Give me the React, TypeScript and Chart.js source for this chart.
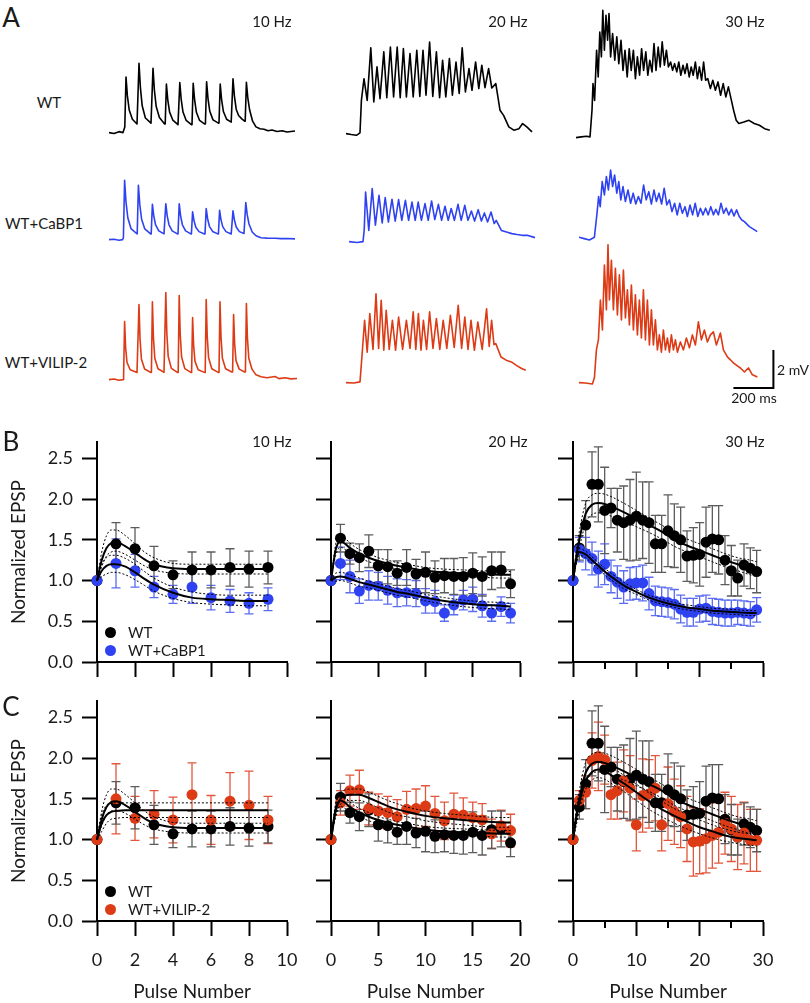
import React, { useEffect, useRef } from "react";
import { Chart, registerables } from "chart.js";

Chart.register(...registerables);

type Pt = [number, number];

// ---------------- Panel A : membrane traces, [time (ms), mV above baseline] ----------------
const traceWT10: Pt[] = [[0,0],[25,-0.05],[50,0.05],[70,0],[79,0.3],[85,2.92],[92,1.93],[101,1.19],[117,0.7],[140,0.45],
[144,0.45],[150,3.65],[157,2.37],[166,1.41],[182,0.77],[210,0.5],
[214,0.5],[220,3.39],[227,2.23],[236,1.37],[252,0.79],[278,0.45],
[281,0.45],[287,2.55],[294,1.71],[303,1.08],[319,0.66],[345,0.42],
[348,0.42],[354,2.63],[361,1.75],[370,1.08],[386,0.64],[412,0.42],
[415,0.42],[421,2.6],[428,1.73],[437,1.07],[453,0.64],[479,0.45],
[482,0.45],[488,2.68],[495,1.79],[504,1.12],[520,0.67],[547,0.5],
[550,0.5],[556,2.55],[563,1.73],[572,1.11],[588,0.7],[611,0.55],
[614,0.55],[620,2.83],[627,1.92],[636,1.23],[648,0.9],[664,0.72],[678,0.6],
[681,0.6],[687,2.65],[694,1.83],[703,1.2],[718,0.6],[735,0.3],[755,0.2],[775,0.18],[795,0.1],[815,0.14],[840,0.06],[865,0.1],[890,0.03],[930,0.08]];

const traceWT20: Pt[] = [[0,0],[26,-0.05],[52,-0.09],[70,0.04],[77,1.75],[90,2.89],[106,1.75],[124,4.51],[139,1.67],[155,3.51],[170,1.84],
[189,4.3],[204,1.89],[222,4.56],[238,1.93],[256,4.56],[271,1.89],[287,4.47],[302,1.93],[320,4.21],[336,1.93],[354,4.39],[369,1.96],
[385,4.39],[400,2.02],[418,4.82],[434,1.96],[452,4.3],[468,1.89],[483,3.86],[499,1.93],[517,3.95],[532,2.02],[550,3.77],[566,2.11],
[581,4.51],[597,2.19],[615,3.42],[630,2.28],[648,3.77],[664,2.37],[679,3.6],[695,2.42],[713,3.42],[729,2.4],[749,2.63],[770,1.23],
[788,0.96],[814,0.35],[839,0.18],[865,0.26],[883,0.53],[904,0.35],[930,0.09]];

const traceWT30: Pt[] = [[0,0],[26,0.04],[52,0.07],[70,0.04],[80,1.44],[85,2.84],[93,1.96],[103,4.6],[111,3.19],[119,5.56],[127,4.25],
[134,6.7],[142,4.6],[150,6.44],[158,5.12],[165,6.53],[173,4.25],[183,5.47],[194,4.07],[204,5.3],[214,3.89],[225,5.12],[235,3.54],
[245,4.6],[256,3.19],[266,4.68],[276,3.54],[287,4.6],[297,3.1],[307,4.25],[318,3.28],[328,4.68],[338,3.54],[349,4.51],[359,3.28],
[369,4.07],[380,3.46],[390,4.95],[400,3.54],[411,4.77],[421,3.72],[431,5.04],[442,3.81],[452,4.6],[462,3.72],[473,3.98],[483,3.54],
[493,3.89],[504,3.46],[514,3.98],[524,3.28],[535,3.81],[545,3.37],[555,3.89],[566,3.19],[576,3.72],[586,3.28],[597,3.98],[607,3.1],
[617,3.72],[628,3.02],[638,3.98],[648,3.02],[659,3.1],[672,2.58],[684,3.02],[697,2.49],[710,2.93],[723,2.23],[736,2.84],[749,2.14],
[762,2.67],[775,2.05],[788,1.44],[801,0.91],[814,0.74],[839,0.82],[865,0.91],[891,0.74],[917,0.65],[943,0.47],[969,0.39]];

const traceCa10: Pt[] = [[0,0],[25,0.02],[50,-0.03],[68,0],[72,0.1],[78,3.12],[85,1.99],[94,1.15],[110,0.58],[138,0.32],
[141,0.3],[147,2.86],[154,1.84],[163,1.07],[179,0.56],[208,0.3],
[211,0.3],[217,1.86],[224,1.24],[233,0.77],[249,0.46],[275,0.3],
[278,0.3],[284,1.89],[291,1.25],[300,0.78],[316,0.46],[342,0.3],
[345,0.3],[351,1.89],[358,1.25],[367,0.78],[383,0.46],[409,0.3],
[412,0.3],[418,1.46],[425,1.0],[434,0.65],[450,0.42],[477,0.3],
[480,0.3],[486,1.63],[493,1.1],[502,0.7],[518,0.43],[544,0.3],
[547,0.3],[553,1.54],[560,1.04],[569,0.67],[585,0.42],[611,0.3],
[614,0.3],[620,1.51],[627,1.03],[636,0.66],[652,0.42],[675,0.32],
[678,0.32],[684,1.95],[691,1.31],[700,0.82],[716,0.4],[735,0.2],[760,0.1],[790,0.08],[830,0.07],[860,0.05],[890,0.06],[930,0.04]];

const traceCa20: Pt[] = [[0,0],[40,-0.05],[70,0],[76,0.6],[83,2.61],[99,0.59],[116,2.79],[132,0.86],[150,2.44],[166,0.98],[181,2.32],
[197,1.03],[215,2.23],[231,1.08],[248,2.21],[264,1.12],[282,2.17],[298,1.12],[315,2.08],[331,1.12],[346,2.08],[362,1.12],[380,2.0],
[396,1.12],[413,2.14],[429,1.16],[447,1.96],[463,1.12],[480,1.86],[496,1.12],[511,1.74],[527,1.12],[545,1.96],[561,1.12],[579,1.91],
[595,1.12],[612,1.61],[628,1.08],[646,1.68],[662,1.08],[677,1.51],[693,1.03],[710,1.56],[726,0.95],[736,1.12],[762,0.59],[788,0.5],
[814,0.42],[840,0.37],[865,0.33],[891,0.33],[930,0.21]];

const traceCa30: Pt[] = [[0,0.07],[26,0],[52,-0.07],[77,0.07],[90,1.33],[98,2.21],[106,1.68],[116,3.0],[127,2.3],[137,3.26],[147,2.56],
[158,3.61],[168,2.74],[178,3.35],[189,2.39],[199,3.0],[209,2.04],[220,2.74],[232,1.95],[245,2.56],[258,1.86],[271,2.39],[284,1.82],
[297,2.21],[310,1.86],[323,2.82],[336,2.04],[349,2.47],[362,1.82],[375,2.56],[387,1.95],[400,2.39],[413,1.82],[426,2.65],[439,1.77],
[452,2.04],[465,1.42],[478,1.86],[491,1.25],[504,1.86],[517,1.33],[530,1.68],[542,1.16],[555,1.77],[568,1.25],[581,1.86],[594,1.16],
[607,1.6],[620,1.25],[633,1.6],[646,1.25],[659,1.68],[672,1.25],[684,1.54],[697,1.25],[710,1.86],[723,1.33],[736,1.6],[749,1.25],
[762,1.54],[775,1.19],[788,1.51],[801,1.16],[814,0.98],[827,0.89],[852,0.63],[878,0.46],[891,0.37]];

const traceVi10: Pt[] = [[0,0],[25,0.03],[50,-0.03],[70,0],[73,0.2],[78,3.05],[83,1.7],[90,0.9],[106,0.52],[140,0.38],
[145,0.38],[150,3.95],[155,2.17],[162,1.09],[178,0.56],[208,0.38],
[212,0.38],[217,4.1],[222,2.24],[229,1.12],[245,0.57],[275,0.38],
[279,0.38],[284,4.58],[289,2.48],[296,1.22],[312,0.59],[342,0.38],
[346,0.38],[351,4.42],[356,2.4],[363,1.19],[379,0.58],[409,0.38],
[413,0.38],[418,3.26],[423,1.82],[430,0.96],[446,0.52],[477,0.38],
[481,0.38],[486,4.21],[491,2.3],[498,1.15],[514,0.57],[546,0.38],
[550,0.38],[555,4.1],[560,2.24],[567,1.12],[583,0.57],[614,0.4],
[618,0.4],[623,3.42],[628,1.91],[635,1.0],[651,0.55],[678,0.4],
[682,0.4],[687,4.0],[692,2.2],[699,1.12],[715,0.55],[735,0.25],[760,0.15],[790,0.1],[830,0.16],[850,0.05],[880,0.1],[910,0.04],[940,0.06]];

const traceVi20: Pt[] = [[0,0],[39,-0.02],[70,0.04],[77,1.0],[93,3.28],[106,1.6],[119,3.63],[135,1.75],[150,4.68],[163,1.8],[176,4.33],
[189,1.7],[201,3.81],[216,1.75],[232,3.28],[248,1.7],[263,3.45],[283,1.75],[302,3.28],[320,1.8],[336,3.72],[349,1.75],[362,3.63],
[375,1.7],[387,3.28],[403,1.75],[418,3.72],[435,1.8],[452,3.37],[469,1.75],[486,3.28],[504,1.8],[522,3.54],[541,1.85],[561,4.07],
[578,1.8],[594,3.45],[610,1.75],[625,3.28],[642,1.7],[659,3.19],[681,1.75],[703,3.89],[716,1.9],[728,3.28],[740,2.0],[749,2.05],
[775,1.35],[801,1.18],[827,1.09],[852,0.91],[878,0.74],[899,0.65]];

const traceVi30: Pt[] = [[0,0],[32,-0.02],[67,-0.07],[77,0.25],[87,1.72],[97,2.25],[107,4.35],[117,2.77],[127,6.19],[137,3.83],
[145,7.25],[152,4.35],[162,6.44],[172,3.83],[182,6.02],[192,3.56],[202,5.67],[212,3.3],[222,5.93],[232,3.4],[242,4.88],[252,3.04],
[262,5.14],[272,2.77],[282,4.62],[292,2.51],[302,4.35],[312,2.35],[322,4.88],[332,2.25],[342,4.35],[352,1.98],[362,3.83],[372,1.98],
[382,3.3],[392,1.72],[402,2.51],[412,1.6],[422,2.77],[432,1.72],[442,2.35],[452,1.6],[462,2.51],[472,1.72],[482,2.25],[492,1.6],
[507,2.14],[522,1.72],[537,2.35],[552,1.83],[567,2.51],[582,1.98],[597,3.2],[612,2.25],[627,2.77],[642,2.14],[657,2.51],[672,2.67],
[687,1.98],[707,2.61],[722,1.72],[742,1.35],[757,1.2],[772,1.04],[792,0.88],[807,0.77],[827,0.56],[847,0.77],[867,0.41],[892,0.3]];

// scale bar: 200 ms, 2 mV (anchored in the WT+VILIP-2 30 Hz trace coordinates)
const scaleBarMs = 200;
const scaleBarMv = 2;
const scaleBarOrigin: Pt = [772, -0.28];

// ---------------- Panels B / C : normalized EPSP vs pulse number ----------------
const pulse10 = [0, 1, 2, 3, 4, 5, 6, 7, 8, 9];
const pulse20 = [0, 1, 2, 3, 4, 5, 6, 7, 8, 9, 10, 11, 12, 13, 14, 15, 16, 17, 18, 19];
const pulse30 = [0, 1, 2, 3, 4, 5, 6, 7, 8, 9, 10, 11, 12, 13, 14, 15, 16, 17, 18, 19, 20, 21, 22, 23, 24, 25, 26, 27, 28, 29];

const wt10 = [1.0, 1.45, 1.39, 1.18, 1.07, 1.13, 1.13, 1.16, 1.14, 1.16];
const wt10Err = [0, 0.26, 0.26, 0.24, 0.17, 0.22, 0.22, 0.23, 0.22, 0.2];
const ca10 = [1.0, 1.21, 1.12, 0.92, 0.83, 0.92, 0.79, 0.75, 0.72, 0.77];
const ca10Err = [0, 0.3, 0.2, 0.13, 0.11, 0.2, 0.15, 0.14, 0.13, 0.14];
const vi10 = [1.0, 1.5, 1.26, 1.31, 1.24, 1.55, 1.24, 1.47, 1.42, 1.24];
const vi10Err = [0, 0.43, 0.27, 0.29, 0.28, 0.39, 0.3, 0.35, 0.42, 0.29];

const wt20 = [1.0, 1.52, 1.33, 1.28, 1.36, 1.18, 1.17, 1.09, 1.16, 1.08, 1.1, 1.04, 1.06, 1.05, 1.05, 1.09, 1.05, 1.12, 1.13, 0.96];
const wt20Err = [0, 0.17, 0.13, 0.17, 0.2, 0.2, 0.21, 0.15, 0.22, 0.18, 0.25, 0.2, 0.21, 0.22, 0.23, 0.25, 0.24, 0.23, 0.22, 0.17];
const ca20 = [1.0, 1.21, 1.05, 0.87, 0.94, 0.93, 0.88, 0.85, 0.85, 0.84, 0.75, 0.74, 0.6, 0.7, 0.76, 0.77, 0.69, 0.6, 0.68, 0.6];
const ca20Err = [0, 0.2, 0.2, 0.15, 0.18, 0.17, 0.17, 0.17, 0.16, 0.16, 0.15, 0.14, 0.1, 0.12, 0.12, 0.15, 0.14, 0.1, 0.12, 0.12];
const vi20 = [1.0, 1.45, 1.6, 1.61, 1.38, 1.35, 1.33, 1.28, 1.37, 1.38, 1.41, 1.32, 1.23, 1.31, 1.3, 1.27, 1.24, 1.07, 1.17, 1.11];
const vi20Err = [0, 0.15, 0.19, 0.24, 0.2, 0.21, 0.2, 0.21, 0.22, 0.24, 0.25, 0.21, 0.23, 0.26, 0.21, 0.19, 0.2, 0.18, 0.19, 0.2];

const wt30 = [1.0, 1.4, 1.68, 2.18, 2.18, 1.86, 1.89, 1.74, 1.71, 1.74, 1.79, 1.74, 1.71, 1.45, 1.45, 1.61, 1.55, 1.5, 1.3, 1.31, 1.32, 1.47, 1.51, 1.5, 1.25, 1.12, 1.03, 1.19, 1.15, 1.11];
const wt30Err = [0, 0.15, 0.3, 0.4, 0.46, 0.53, 0.24, 0.39, 0.45, 0.5, 0.54, 0.47, 0.5, 0.35, 0.35, 0.44, 0.39, 0.4, 0.31, 0.34, 0.39, 0.43, 0.41, 0.42, 0.3, 0.31, 0.22, 0.26, 0.25, 0.26];
const ca30 = [1.0, 1.38, 1.33, 1.27, 1.14, 1.2, 1.05, 0.98, 0.92, 0.96, 0.97, 0.97, 0.84, 0.75, 0.74, 0.73, 0.71, 0.65, 0.61, 0.61, 0.65, 0.66, 0.62, 0.61, 0.6, 0.6, 0.61, 0.6, 0.59, 0.64];
const ca30Err = [0, 0.15, 0.2, 0.2, 0.22, 0.25, 0.2, 0.2, 0.2, 0.2, 0.2, 0.22, 0.2, 0.18, 0.18, 0.18, 0.18, 0.17, 0.17, 0.17, 0.16, 0.16, 0.16, 0.16, 0.16, 0.16, 0.15, 0.15, 0.15, 0.15];
const vi30 = [1.0, 1.48, 1.58, 1.97, 2.02, 1.98, 1.55, 1.6, 1.72, 1.63, 1.18, 1.54, 1.56, 1.63, 1.18, 1.44, 1.34, 1.28, 1.13, 0.97, 0.98, 1.01, 1.05, 1.09, 1.2, 1.13, 1.03, 1.08, 0.99, 0.99];
const vi30Err = [0, 0.12, 0.2, 0.34, 0.42, 0.3, 0.3, 0.35, 0.38, 0.4, 0.32, 0.45, 0.42, 0.4, 0.32, 0.45, 0.4, 0.38, 0.4, 0.42, 0.4, 0.42, 0.4, 0.38, 0.38, 0.4, 0.4, 0.38, 0.38, 0.38];

// fitted curves (solid) and confidence bands (dotted)
const grid10 = [0, 0.25, 0.5, 0.75, 1, 1.5, 2, 2.5, 3, 4, 5, 6, 7, 8, 9];
const fitWT10 = [1.0, 1.25, 1.4, 1.46, 1.47, 1.42, 1.34, 1.26, 1.2, 1.15, 1.14, 1.14, 1.14, 1.14, 1.14];
const hiWT10 = [1.0, 1.35, 1.55, 1.62, 1.62, 1.55, 1.45, 1.35, 1.28, 1.21, 1.2, 1.2, 1.2, 1.2, 1.2];
const loWT10 = [1.0, 1.17, 1.3, 1.35, 1.36, 1.32, 1.25, 1.18, 1.13, 1.09, 1.08, 1.08, 1.08, 1.08, 1.08];
const fitCa10 = [1.0, 1.12, 1.18, 1.2, 1.2, 1.17, 1.1, 1.02, 0.95, 0.85, 0.79, 0.77, 0.76, 0.75, 0.75];
const hiCa10 = [1.0, 1.2, 1.28, 1.31, 1.31, 1.27, 1.2, 1.11, 1.03, 0.92, 0.86, 0.83, 0.82, 0.82, 0.82];
const loCa10 = [1.0, 1.05, 1.08, 1.1, 1.1, 1.07, 1.01, 0.94, 0.87, 0.78, 0.73, 0.71, 0.7, 0.69, 0.69];
const fitVi10 = [1.0, 1.2, 1.3, 1.34, 1.35, 1.36, 1.36, 1.36, 1.36, 1.36, 1.36, 1.36, 1.36, 1.36, 1.36];
const hiVi10 = [1.0, 1.3, 1.42, 1.45, 1.45, 1.45, 1.45, 1.45, 1.45, 1.45, 1.45, 1.45, 1.45, 1.45, 1.45];
const loVi10 = [1.0, 1.1, 1.2, 1.25, 1.26, 1.27, 1.27, 1.27, 1.27, 1.27, 1.27, 1.27, 1.27, 1.27, 1.27];

const grid20 = [0, 0.5, 1, 1.5, 2, 3, 4, 5, 6, 7, 8, 10, 12, 14, 16, 18, 19];
const fitWT20 = [1.0, 1.38, 1.48, 1.45, 1.4, 1.33, 1.28, 1.24, 1.21, 1.18, 1.16, 1.12, 1.1, 1.09, 1.08, 1.07, 1.07];
const hiWT20 = [1.0, 1.45, 1.56, 1.52, 1.46, 1.38, 1.33, 1.28, 1.25, 1.22, 1.2, 1.16, 1.14, 1.13, 1.12, 1.11, 1.11];
const loWT20 = [1.0, 1.31, 1.41, 1.38, 1.34, 1.28, 1.23, 1.2, 1.17, 1.14, 1.12, 1.08, 1.06, 1.05, 1.04, 1.03, 1.03];
const fitCa20 = [1.0, 1.04, 1.05, 1.04, 1.02, 0.98, 0.95, 0.92, 0.89, 0.86, 0.84, 0.79, 0.75, 0.72, 0.7, 0.69, 0.68];
const hiCa20 = [1.0, 1.09, 1.1, 1.09, 1.07, 1.03, 0.99, 0.96, 0.93, 0.9, 0.88, 0.83, 0.79, 0.76, 0.74, 0.73, 0.72];
const loCa20 = [1.0, 0.99, 1.0, 0.99, 0.97, 0.93, 0.91, 0.88, 0.85, 0.82, 0.8, 0.75, 0.71, 0.68, 0.66, 0.65, 0.64];
const fitVi20 = [1.0, 1.35, 1.5, 1.54, 1.55, 1.55, 1.51, 1.46, 1.41, 1.37, 1.34, 1.29, 1.26, 1.24, 1.22, 1.21, 1.21];
const hiVi20 = [1.0, 1.42, 1.57, 1.61, 1.62, 1.62, 1.58, 1.53, 1.48, 1.44, 1.4, 1.35, 1.32, 1.3, 1.28, 1.27, 1.27];
const loVi20 = [1.0, 1.28, 1.43, 1.47, 1.48, 1.48, 1.44, 1.39, 1.34, 1.3, 1.28, 1.23, 1.2, 1.18, 1.16, 1.15, 1.15];

const grid30 = [0, 0.5, 1, 2, 3, 4, 5, 6, 8, 10, 12, 14, 16, 18, 20, 22, 24, 26, 28, 29];
const fitWT30 = [1.0, 1.28, 1.5, 1.82, 1.93, 1.95, 1.94, 1.91, 1.84, 1.76, 1.68, 1.6, 1.5, 1.43, 1.37, 1.31, 1.25, 1.2, 1.16, 1.14];
const hiWT30 = [1.0, 1.35, 1.6, 1.95, 2.05, 2.07, 2.06, 2.03, 1.95, 1.86, 1.77, 1.68, 1.59, 1.51, 1.45, 1.39, 1.33, 1.28, 1.25, 1.23];
const loWT30 = [1.0, 1.2, 1.4, 1.7, 1.81, 1.83, 1.82, 1.79, 1.73, 1.66, 1.59, 1.51, 1.42, 1.35, 1.29, 1.23, 1.17, 1.12, 1.07, 1.05];
const fitCa30 = [1.0, 1.25, 1.35, 1.32, 1.25, 1.18, 1.11, 1.05, 0.94, 0.86, 0.79, 0.74, 0.7, 0.67, 0.65, 0.63, 0.62, 0.61, 0.6, 0.6];
const hiCa30 = [1.0, 1.29, 1.39, 1.36, 1.29, 1.22, 1.15, 1.09, 0.98, 0.89, 0.82, 0.77, 0.73, 0.7, 0.68, 0.66, 0.65, 0.64, 0.63, 0.63];
const loCa30 = [1.0, 1.21, 1.31, 1.28, 1.21, 1.14, 1.07, 1.01, 0.9, 0.83, 0.76, 0.71, 0.67, 0.64, 0.62, 0.6, 0.59, 0.58, 0.57, 0.57];
const fitVi30 = [1.0, 1.25, 1.45, 1.72, 1.83, 1.86, 1.84, 1.79, 1.69, 1.58, 1.47, 1.37, 1.29, 1.22, 1.15, 1.1, 1.05, 1.02, 1.0, 0.99];
const hiVi30 = [1.0, 1.33, 1.55, 1.82, 1.93, 1.96, 1.94, 1.89, 1.79, 1.68, 1.57, 1.47, 1.38, 1.31, 1.24, 1.18, 1.13, 1.09, 1.07, 1.06];
const loVi30 = [1.0, 1.17, 1.36, 1.62, 1.73, 1.76, 1.74, 1.69, 1.59, 1.48, 1.37, 1.28, 1.2, 1.13, 1.07, 1.02, 0.98, 0.95, 0.93, 0.92];

// tick labels
const yTicks = [0, 0.5, 1.0, 1.5, 2.0, 2.5];
const xTicks10 = [0, 2, 4, 6, 8, 10];
const xTicks20 = [0, 5, 10, 15, 20];
const xTicks30 = [0, 5, 10, 15, 20, 25, 30];
const xMinor30 = [5, 15, 25];

// ---------------- styles ----------------
const FONT = "Lato, 'Open Sans', sans-serif";
const TXT = "#1a1a1a";
const BLACK = "#000000";
const BLUE = "#2f42f2";
const RED = "#dc3b16";
const ERR_BLACK = "#5c5c5c";
const ERR_BLUE = "#5a6cf2";
const ERR_RED = "#e2573c";

const errorBarPlugin = {
  id: "errorBars",
  beforeDatasetsDraw(chart: any) {
    const { ctx } = chart;
    const xs = chart.scales.x;
    const ys = chart.scales.y;
    chart.data.datasets.forEach((ds: any) => {
      if (!ds.errors) return;
      ctx.save();
      ctx.strokeStyle = ds.errColor;
      ctx.lineWidth = 1.3;
      ds.data.forEach((p: any, i: number) => {
        const e = ds.errors[i];
        if (!e) return;
        const x = xs.getPixelForValue(p.x);
        const y1 = ys.getPixelForValue(p.y + e);
        const y2 = ys.getPixelForValue(p.y - e);
        ctx.beginPath();
        ctx.moveTo(x, y1);
        ctx.lineTo(x, y2);
        ctx.moveTo(x - 4.5, y1);
        ctx.lineTo(x + 4.5, y1);
        ctx.moveTo(x - 4.5, y2);
        ctx.lineTo(x + 4.5, y2);
        ctx.stroke();
      });
      ctx.restore();
    });
  },
};

const minorTickPlugin = {
  id: "minorTicks",
  afterDraw(chart: any, _args: any, opts: any) {
    if (!opts || !opts.values || !opts.values.length) return;
    const { ctx } = chart;
    const xs = chart.scales.x;
    ctx.save();
    ctx.strokeStyle = "#000";
    ctx.lineWidth = 2;
    opts.values.forEach((v: number) => {
      const x = Math.round(xs.getPixelForValue(v));
      ctx.beginPath();
      ctx.moveTo(x, xs.top);
      ctx.lineTo(x, xs.top + opts.length);
      ctx.stroke();
    });
    ctx.restore();
  },
};

// ---------------- trace chart ----------------
const TRACE_W = 200;
const TRACE_H = 152;
const T_MAX = 1000;
const V_MIN = -0.6;
const V_MAX = 7.4;

function TraceChart(props: { data: Pt[]; color: string; left: number; base: number; bar?: boolean }) {
  const ref = useRef<HTMLCanvasElement>(null);
  useEffect(() => {
    const datasets: any[] = [
      {
        data: props.data.map(([x, y]) => ({ x, y })),
        showLine: true,
        borderColor: props.color,
        borderWidth: 1.6,
        pointRadius: 0,
        tension: 0,
        borderJoinStyle: "round",
        clip: false,
      },
    ];
    if (props.bar) {
      const [bx, by] = scaleBarOrigin;
      datasets.push({
        data: [
          { x: bx, y: by },
          { x: bx + scaleBarMs, y: by },
          { x: bx + scaleBarMs, y: by + scaleBarMv },
        ],
        showLine: true,
        borderColor: "#000",
        borderWidth: 2,
        pointRadius: 0,
        tension: 0,
        clip: false,
      });
    }
    const chart = new Chart(ref.current as HTMLCanvasElement, {
      type: "scatter",
      data: { datasets },
      options: {
        responsive: false,
        animation: false,
        events: [],
        layout: { padding: 0 },
        plugins: { legend: { display: false }, tooltip: { enabled: false } },
        scales: {
          x: { type: "linear", display: false, min: 0, max: T_MAX },
          y: { type: "linear", display: false, min: V_MIN, max: V_MAX },
        },
      } as any,
    });
    return () => chart.destroy();
  }, []);
  const pxPerMv = TRACE_H / (V_MAX - V_MIN);
  return (
    <canvas
      ref={ref}
      width={TRACE_W}
      height={TRACE_H}
      style={{ position: "absolute", left: props.left, top: props.base - V_MAX * pxPerMv, width: TRACE_W, height: TRACE_H }}
    />
  );
}

// ---------------- plot chart ----------------
type Series = { x: number[]; y: number[]; err: number[]; color: string; errColor: string; order: number };
type Fit = { x: number[]; mid: number[]; hi: number[]; lo: number[] };

const PAD_TOP = 24;
const PAD_RIGHT = 24;
const CHART_H = 220;

function PlotChart(props: {
  axisX: number;
  chartTop: number;
  plotW: number;
  yWidth: number;
  xHeight: number;
  xMax: number;
  xTicks: number[];
  xMinor: number[];
  yLabels: boolean;
  xLabels: boolean;
  series: Series[];
  fits: Fit[];
}) {
  const ref = useRef<HTMLCanvasElement>(null);
  const width = props.yWidth + props.plotW + PAD_RIGHT;
  const height = PAD_TOP + CHART_H + props.xHeight;
  useEffect(() => {
    const datasets: any[] = [];
    props.fits.forEach((f) => {
      datasets.push({
        data: f.x.map((x, i) => ({ x, y: f.mid[i] })),
        showLine: true,
        borderColor: "#000",
        borderWidth: 2,
        pointRadius: 0,
        cubicInterpolationMode: "monotone",
        clip: false,
        order: 0,
      });
      [f.hi, f.lo].forEach((arr) =>
        datasets.push({
          data: f.x.map((x, i) => ({ x, y: arr[i] })),
          showLine: true,
          borderColor: "#000",
          borderWidth: 1,
          borderDash: [2, 2],
          pointRadius: 0,
          cubicInterpolationMode: "monotone",
          clip: false,
          order: 0,
        })
      );
    });
    props.series.forEach((s) => {
      datasets.push({
        data: s.x.map((x, i) => ({ x, y: s.y[i] })),
        errors: s.err,
        errColor: s.errColor,
        showLine: false,
        pointRadius: 5.5,
        pointBackgroundColor: s.color,
        pointBorderColor: s.color,
        pointBorderWidth: 0,
        clip: false,
        order: s.order,
      });
    });
    const tickFont = { family: FONT, size: 18 };
    const titleFont = { family: FONT, size: 19 };
    const minor = props.xMinor;
    const chart = new Chart(ref.current as HTMLCanvasElement, {
      type: "scatter",
      data: { datasets },
      plugins: [errorBarPlugin, minorTickPlugin],
      options: {
        responsive: false,
        animation: false,
        events: [],
        layout: { padding: { top: PAD_TOP, right: PAD_RIGHT, left: 0, bottom: 0 } },
        plugins: {
          legend: { display: false },
          tooltip: { enabled: false },
          minorTicks: { values: minor, length: 7 },
        },
        scales: {
          x: {
            type: "linear",
            min: 0,
            max: props.xMax,
            afterBuildTicks: (s: any) => {
              s.ticks = props.xTicks.map((v) => ({ value: v }));
            },
            afterFit: (s: any) => {
              s.height = props.xHeight;
            },
            ticks: {
              display: props.xLabels,
              font: tickFont,
              color: TXT,
              padding: 13,
              maxRotation: 0,
              autoSkip: false,
              callback: (v: any) => (minor.includes(v) ? "" : String(v)),
            },
            grid: {
              drawOnChartArea: false,
              drawTicks: true,
              tickLength: 15,
              tickWidth: 2,
              tickColor: (c: any) => (c.tick && minor.includes(c.tick.value) ? "rgba(0,0,0,0)" : "#000"),
            },
            border: { display: true, width: 2, color: "#000" },
            title: {
              display: props.xLabels,
              text: "Pulse Number",
              font: titleFont,
              color: TXT,
              padding: 0,
            },
          },
          y: {
            type: "linear",
            min: 0,
            max: 2.7,
            afterBuildTicks: (s: any) => {
              s.ticks = yTicks.map((v) => ({ value: v }));
            },
            afterFit: (s: any) => {
              s.width = props.yWidth;
            },
            ticks: {
              display: props.yLabels,
              font: tickFont,
              color: TXT,
              padding: 9,
              callback: (v: any) => Number(v).toFixed(1),
            },
            grid: { drawOnChartArea: false, drawTicks: true, tickLength: 15, tickWidth: 2, tickColor: "#000" },
            border: { display: true, width: 2, color: "#000" },
            title: {
              display: props.yLabels,
              text: "Normalized EPSP",
              font: titleFont,
              color: TXT,
              padding: { top: 7, bottom: 0 },
            },
          },
        },
      } as any,
    });
    return () => chart.destroy();
  }, []);
  return (
    <canvas
      ref={ref}
      width={width}
      height={height}
      style={{
        position: "absolute",
        left: props.axisX - props.yWidth,
        top: props.chartTop - PAD_TOP,
        width,
        height,
      }}
    />
  );
}

// ---------------- layout ----------------
const traceRows = [
  { data: traceWT10, color: BLACK, left: 108.5, base: 132.7 },
  { data: traceWT20, color: BLACK, left: 346, base: 133.3 },
  { data: traceWT30, color: BLACK, left: 576, base: 137.3 },
  { data: traceCa10, color: BLUE, left: 108.5, base: 239.3 },
  { data: traceCa20, color: BLUE, left: 348.7, base: 241.3 },
  { data: traceCa30, color: BLUE, left: 578.6, base: 238.7 },
  { data: traceVi10, color: RED, left: 108.5, base: 380 },
  { data: traceVi20, color: RED, left: 346, base: 382.3 },
  { data: traceVi30, color: RED, left: 578.6, base: 382.7, bar: true },
];

const cols = [
  { axisX: 97, plotW: 190, xMax: 10, xTicks: xTicks10, xMinor: [] as number[], pulses: pulse10 },
  { axisX: 331, plotW: 189, xMax: 20, xTicks: xTicks20, xMinor: [] as number[], pulses: pulse20 },
  { axisX: 573, plotW: 190, xMax: 30, xTicks: xTicks30, xMinor: xMinor30, pulses: pulse30 },
];

const wtData = [
  { y: wt10, err: wt10Err, fit: { x: grid10, mid: fitWT10, hi: hiWT10, lo: loWT10 } },
  { y: wt20, err: wt20Err, fit: { x: grid20, mid: fitWT20, hi: hiWT20, lo: loWT20 } },
  { y: wt30, err: wt30Err, fit: { x: grid30, mid: fitWT30, hi: hiWT30, lo: loWT30 } },
];
const caData = [
  { y: ca10, err: ca10Err, fit: { x: grid10, mid: fitCa10, hi: hiCa10, lo: loCa10 } },
  { y: ca20, err: ca20Err, fit: { x: grid20, mid: fitCa20, hi: hiCa20, lo: loCa20 } },
  { y: ca30, err: ca30Err, fit: { x: grid30, mid: fitCa30, hi: hiCa30, lo: loCa30 } },
];
const viData = [
  { y: vi10, err: vi10Err, fit: { x: grid10, mid: fitVi10, hi: hiVi10, lo: loVi10 } },
  { y: vi20, err: vi20Err, fit: { x: grid20, mid: fitVi20, hi: hiVi20, lo: loVi20 } },
  { y: vi30, err: vi30Err, fit: { x: grid30, mid: fitVi30, hi: hiVi30, lo: loVi30 } },
];

const labels = [
  { t: "A", x: 11, y: 17, s: 26 },
  { t: "10 Hz", x: 272, y: 21, s: 15 },
  { t: "20 Hz", x: 508, y: 21, s: 15 },
  { t: "30 Hz", x: 745, y: 21, s: 15 },
  { t: "WT", x: 49, y: 102, s: 15 },
  { t: "WT+CaBP1", x: 44, y: 223, s: 15 },
  { t: "WT+VILIP-2", x: 46, y: 362, s: 15 },
  { t: "2 mV", x: 793, y: 370, s: 14 },
  { t: "200 ms", x: 754, y: 398, s: 14 },
  { t: "B", x: 11, y: 441, s: 26 },
  { t: "10 Hz", x: 272, y: 441, s: 15 },
  { t: "20 Hz", x: 508, y: 441, s: 15 },
  { t: "30 Hz", x: 745, y: 441, s: 15 },
  { t: "C", x: 11, y: 706, s: 26 },
];

const legends = [
  { t: "WT", color: BLACK, x: 110, y: 632 },
  { t: "WT+CaBP1", color: BLUE, x: 110, y: 650 },
  { t: "WT", color: BLACK, x: 110, y: 891 },
  { t: "WT+VILIP-2", color: RED, x: 110, y: 909 },
];

export default function App() {
  const rows = [
    { chartTop: 442, xHeight: 26, xLabels: false, other: caData, color: BLUE, errColor: ERR_BLUE },
    { chartTop: 701, xHeight: 82, xLabels: true, other: viData, color: RED, errColor: ERR_RED },
  ];
  return (
    <div
      style={{
        position: "absolute",
        left: 0,
        top: 0,
        width: 810,
        height: 1003,
        overflow: "hidden",
        background: "#fff",
        fontFamily: FONT,
        color: TXT,
      }}
    >
      {traceRows.map((r, i) => (
        <TraceChart key={"t" + i} data={r.data} color={r.color} left={r.left} base={r.base} bar={!!(r as any).bar} />
      ))}
      {rows.map((row, ri) =>
        cols.map((c, ci) => (
          <PlotChart
            key={"p" + ri + "-" + ci}
            axisX={c.axisX}
            chartTop={row.chartTop}
            plotW={c.plotW}
            yWidth={ci === 0 ? 97 : 20}
            xHeight={row.xHeight}
            xMax={c.xMax}
            xTicks={c.xTicks}
            xMinor={c.xMinor}
            yLabels={ci === 0}
            xLabels={row.xLabels}
            series={[
              { x: c.pulses, y: row.other[ci].y, err: row.other[ci].err, color: row.color, errColor: row.errColor, order: 1 },
              { x: c.pulses, y: wtData[ci].y, err: wtData[ci].err, color: BLACK, errColor: ERR_BLACK, order: 2 },
            ]}
            fits={[wtData[ci].fit, row.other[ci].fit]}
          />
        ))
      )}
      {labels.map((l, i) => (
        <div
          key={"l" + i}
          style={{
            position: "absolute",
            left: l.x,
            top: l.y,
            transform: "translate(-50%, -50%)",
            fontSize: l.s,
            lineHeight: 1,
            whiteSpace: "nowrap",
          }}
        >
          {l.t}
        </div>
      ))}
      {legends.map((g, i) => (
        <div key={"g" + i}>
          <div
            style={{
              position: "absolute",
              left: g.x - 5.5,
              top: g.y - 5.5,
              width: 11,
              height: 11,
              borderRadius: "50%",
              background: g.color,
            }}
          />
          <div
            style={{
              position: "absolute",
              left: 128,
              top: g.y,
              transform: "translateY(-50%)",
              fontSize: 15,
              lineHeight: 1,
              whiteSpace: "nowrap",
            }}
          >
            {g.t}
          </div>
        </div>
      ))}
    </div>
  );
}
